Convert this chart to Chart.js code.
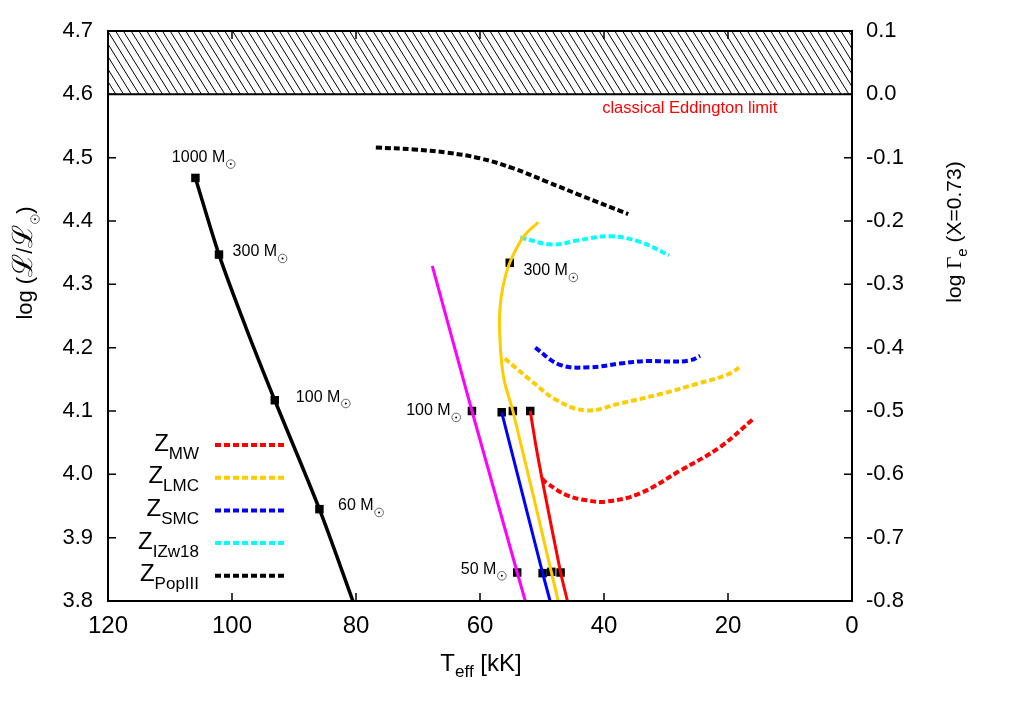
<!DOCTYPE html>
<html lang="en">
<head>
  <meta charset="UTF-8">
  <title>Eddington limit tracks</title>
  <script src="https://cdn.jsdelivr.net/npm/chart.js"></script>
  <style>
    html, body { margin: 0; padding: 0; background: #fff; }
    #wrap { width: 1012px; height: 708px; }
  </style>
</head>
<body>
  <div id="wrap"><canvas id="chart" width="1012" height="708"></canvas></div>

  <script>
    const FONT = "'Liberation Sans', Arial, Helvetica, sans-serif";

    // axis ranges and ticks
    const tempTicks = [0, 20, 40, 60, 80, 100, 120];
    const lumTicks = [3.8, 3.9, 4.0, 4.1, 4.2, 4.3, 4.4, 4.5, 4.6, 4.7];
    const eddingtonL = 4.6;

    // black solid track (hot, PopIII-like)
    const hotT = [105.9, 102.1, 97.8, 93.1, 85.9, 80.5];
    const hotL = [4.468, 4.347, 4.233, 4.117, 3.945, 3.800];

    // magenta solid track
    const magT = [67.7, 61.3, 54.0, 52.7];
    const magL = [4.329, 4.100, 3.845, 3.800];

    // blue solid track
    const blueT = [56.5, 49.9, 48.7];
    const blueL = [4.098, 3.844, 3.800];

    // yellow solid track
    const yelT = [50.6, 53.0, 55.2, 56.3, 56.8, 56.8, 56.5, 56.0, 54.7, 48.5, 47.4];
    const yelL = [4.398, 4.375, 4.334, 4.296, 4.259, 4.217, 4.175, 4.144, 4.100, 3.846, 3.800];

    // red solid track
    const redT = [51.9, 51.0, 50.0, 47.0, 45.9];
    const redL = [4.100, 4.046, 3.993, 3.845, 3.800];

    // dashed curves, one per metallicity
    const mwT = [50.0, 49.2, 46.0, 42.8, 39.6, 34.2, 27.7, 21.3, 16.0];
    const mwL = [3.993, 3.986, 3.967, 3.959, 3.957, 3.970, 4.006, 4.043, 4.087];
    const lmcT = [56.0, 51.9, 47.6, 42.8, 37.4, 30.4, 25.0, 20.2, 17.8];
    const lmcL = [4.183, 4.149, 4.117, 4.101, 4.112, 4.128, 4.143, 4.157, 4.171];
    const smcT = [51.1, 47.1, 42.3, 37.4, 33.1, 29.4, 26.1, 24.5];
    const smcL = [4.200, 4.173, 4.169, 4.175, 4.179, 4.178, 4.180, 4.187];
    const izwT = [53.5, 48.4, 43.9, 39.0, 34.2, 29.5];
    const izwL = [4.374, 4.363, 4.370, 4.376, 4.367, 4.346];
    const pop3T = [76.8, 70.7, 65.4, 60.0, 54.6, 49.2, 43.9, 36.1];
    const pop3L = [4.516, 4.513, 4.508, 4.499, 4.483, 4.462, 4.441, 4.411];

    // mass markers
    const markT = [105.9, 102.1, 93.1, 85.9, 55.2, 61.3, 56.5, 54.7, 51.9, 54.0, 49.9, 48.5, 47.0];
    const markL = [4.468, 4.347, 4.117, 3.945, 4.334, 4.100, 4.098, 4.100, 4.100, 3.845, 3.844, 3.846, 3.845];

    // mass labels (anchored at text start / baseline, in data units)
    const massText = ['1000', '300', '100', '60', '300', '100', '50'];
    const massT = [109.7, 99.9, 89.7, 82.9, 53.0, 71.9, 63.1];
    const massL = [4.493, 4.344, 4.115, 3.943, 4.314, 4.093, 3.843];

    // legend
    const legendNames = ['MW', 'LMC', 'SMC', 'IZw18', 'PopIII'];
    const legendColors = ['#ff0000', '#ffcc00', '#0000ff', '#00ffff', '#000000'];

    const pts = (T, L) => T.map((t, i) => ({ x: t, y: L[i] }));

    function solid(T, L, color, w, tension) {
      return { data: pts(T, L), showLine: true, borderColor: color, borderWidth: w,
        pointRadius: 0, tension: tension || 0, fill: false };
    }
    function dashed(T, L, color) {
      return { data: pts(T, L), showLine: true, borderColor: color, borderWidth: 4,
        borderDash: [6, 3], borderCapStyle: 'butt', pointRadius: 0, tension: 0.4, fill: false };
    }

    // draw text pieces in a row; parts: {t, size, dy} or {sun:true}
    function drawRich(ctx, parts, x, y, align) {
      let total = 0;
      parts.forEach(p => {
        if (p.sun) { p.w = 11; return; }
        ctx.font = p.size + 'px ' + (p.family || FONT);
        p.w = ctx.measureText(p.t).width;
      });
      parts.forEach(p => total += p.w);
      let cx = align === 'center' ? x - total / 2 : align === 'right' ? x - total : x;
      ctx.textAlign = 'left';
      ctx.textBaseline = 'alphabetic';
      parts.forEach(p => {
        if (p.sun) {
          drawSun(ctx, cx + 5.5, y + (p.dy || 0), 4.3);
        } else {
          ctx.font = p.size + 'px ' + (p.family || FONT);
          ctx.fillText(p.t, cx, y + (p.dy || 0));
        }
        cx += p.w;
      });
    }

    function drawSun(ctx, cx, cy, r) {
      ctx.save();
      ctx.strokeStyle = '#444';
      ctx.lineWidth = 0.8;
      ctx.beginPath(); ctx.arc(cx, cy, r, 0, Math.PI * 2); ctx.stroke();
      ctx.fillStyle = '#000';
      ctx.beginPath(); ctx.arc(cx, cy, 1, 0, Math.PI * 2); ctx.fill();
      ctx.restore();
    }

    const decor = {
      id: 'decor',
      beforeDatasetsDraw(chart) {
        const { ctx, chartArea: a, scales: { y } } = chart;
        const top = y.getPixelForValue(4.7), bot = y.getPixelForValue(eddingtonL);
        const h = bot - top, dx = h * 0.62;
        ctx.save();
        ctx.beginPath(); ctx.rect(a.left, top, a.right - a.left, h); ctx.clip();
        ctx.strokeStyle = '#000'; ctx.lineWidth = 1;
        for (let sx = a.left - dx; sx < a.right + dx; sx += 7.8) {
          ctx.beginPath(); ctx.moveTo(sx, top); ctx.lineTo(sx + dx, bot); ctx.stroke();
        }
        ctx.restore();
        ctx.save();
        ctx.strokeStyle = '#000'; ctx.lineWidth = 2;
        ctx.beginPath(); ctx.moveTo(a.left, bot); ctx.lineTo(a.right, bot); ctx.stroke();
        ctx.restore();
      },
      afterDraw(chart) {
        const { ctx, chartArea: a, scales: { x, y } } = chart;
        ctx.save();
        // frame
        ctx.strokeStyle = '#000'; ctx.lineWidth = 2;
        ctx.strokeRect(a.left, a.top, a.right - a.left, a.bottom - a.top);
        // inward ticks
        ctx.lineWidth = 1.5;
        tempTicks.forEach(v => {
          const px = x.getPixelForValue(v);
          ctx.beginPath();
          ctx.moveTo(px, a.bottom); ctx.lineTo(px, a.bottom - 8);
          ctx.moveTo(px, a.top); ctx.lineTo(px, a.top + 8);
          ctx.stroke();
        });
        lumTicks.forEach(v => {
          const py = y.getPixelForValue(v);
          ctx.beginPath();
          ctx.moveTo(a.left, py); ctx.lineTo(a.left + 8, py);
          ctx.moveTo(a.right, py); ctx.lineTo(a.right - 8, py);
          ctx.stroke();
        });

        // mass labels
        ctx.fillStyle = '#000';
        massText.forEach((t, i) => {
          drawRich(ctx, [{ t: t + ' M', size: 16 }, { sun: true, dy: 2 }],
            x.getPixelForValue(massT[i]), y.getPixelForValue(massL[i]), 'left');
        });

        // Eddington limit note
        ctx.fillStyle = '#ff0000';
        ctx.font = '16.5px ' + FONT;
        ctx.textAlign = 'left'; ctx.textBaseline = 'alphabetic';
        ctx.fillText('classical Eddington limit', x.getPixelForValue(40.3), y.getPixelForValue(4.571));

        // legend
        ctx.fillStyle = '#000';
        legendNames.forEach((n, i) => {
          const ly = 445 + i * 32.7;
          drawRich(ctx, [{ t: 'Z', size: 24 }, { t: n, size: 17, dy: 8 }], 199, ly + 5.5, 'right');
          ctx.save();
          ctx.strokeStyle = legendColors[i]; ctx.lineWidth = 4;
          ctx.setLineDash([6, 3]);
          ctx.beginPath(); ctx.moveTo(215, ly); ctx.lineTo(286, ly); ctx.stroke();
          ctx.restore();
        });

        // axis titles
        ctx.fillStyle = '#000';
        drawRich(ctx, [{ t: 'T', size: 24 }, { t: 'eff', size: 17, dy: 6 }, { t: ' [kK]', size: 24 }],
          481, 671, 'center');

        ctx.save();
        ctx.translate(32, 263); ctx.rotate(-Math.PI / 2);
        drawRich(ctx, [{ t: 'log (', size: 22 }, { t: '\u2112', size: 28, family: "'DejaVu Serif', serif" },
          { t: '/', size: 22 }, { t: '\u2112', size: 28, family: "'DejaVu Serif', serif" },
          { sun: true, dy: 3 }, { t: ')', size: 22 }], 0, 0, 'center');
        ctx.restore();

        ctx.save();
        ctx.translate(961, 232); ctx.rotate(-Math.PI / 2);
        drawRich(ctx, [{ t: 'log ', size: 21 }, { t: '\u0393', size: 21, family: "'Liberation Serif', serif" },
          { t: 'e', size: 15, dy: 6 }, { t: ' (X=0.73)', size: 21 }], 0, 0, 'center');
        ctx.restore();

        ctx.restore();
      }
    };

    const fmt = v => (Math.abs(v) < 1e-9 ? 0 : v).toFixed(1);

    new Chart(document.getElementById('chart'), {
      type: 'scatter',
      data: {
        datasets: [
          solid(hotT, hotL, '#000000', 3.5, 0.3),
          solid(magT, magL, '#ff00ff', 3, 0),
          solid(blueT, blueL, '#0000ff', 3, 0),
          solid(yelT, yelL, '#ffcc00', 3, 0.4),
          solid(redT, redL, '#ff0000', 3, 0.2),
          dashed(mwT, mwL, '#ff0000'),
          dashed(lmcT, lmcL, '#ffcc00'),
          dashed(smcT, smcL, '#0000ff'),
          dashed(izwT, izwL, '#00ffff'),
          dashed(pop3T, pop3L, '#000000'),
          { data: pts(markT, markL), showLine: false, pointStyle: 'rect', pointRadius: 6,
            backgroundColor: '#000', borderColor: '#000', borderWidth: 0 }
        ]
      },
      options: {
        responsive: false,
        animation: false,
        events: [],
        layout: { padding: { top: 31, left: 0, right: 0, bottom: 0 } },
        plugins: { legend: { display: false }, tooltip: { enabled: false } },
        scales: {
          x: {
            type: 'linear', reverse: true, min: 0, max: 120,
            grid: { display: false, drawTicks: false }, border: { display: false },
            ticks: { stepSize: 20, padding: 11, color: '#000', maxRotation: 0, autoSkip: false,
              font: { size: 24, family: FONT } },
            afterFit: s => { s.height = 107; }
          },
          y: {
            position: 'left', min: 3.8, max: 4.7,
            grid: { display: false, drawTicks: false }, border: { display: false },
            ticks: { stepSize: 0.1, padding: 15, color: '#000', callback: fmt,
              font: { size: 22, family: FONT } },
            afterFit: s => { s.width = 108; }
          },
          y2: {
            position: 'right', min: -0.8, max: 0.1,
            grid: { display: false, drawTicks: false }, border: { display: false },
            ticks: { stepSize: 0.1, padding: 14, color: '#000', callback: fmt,
              font: { size: 22, family: FONT } },
            afterFit: s => { s.width = 160; }
          }
        }
      },
      plugins: [decor]
    });
  </script>
</body>
</html>
